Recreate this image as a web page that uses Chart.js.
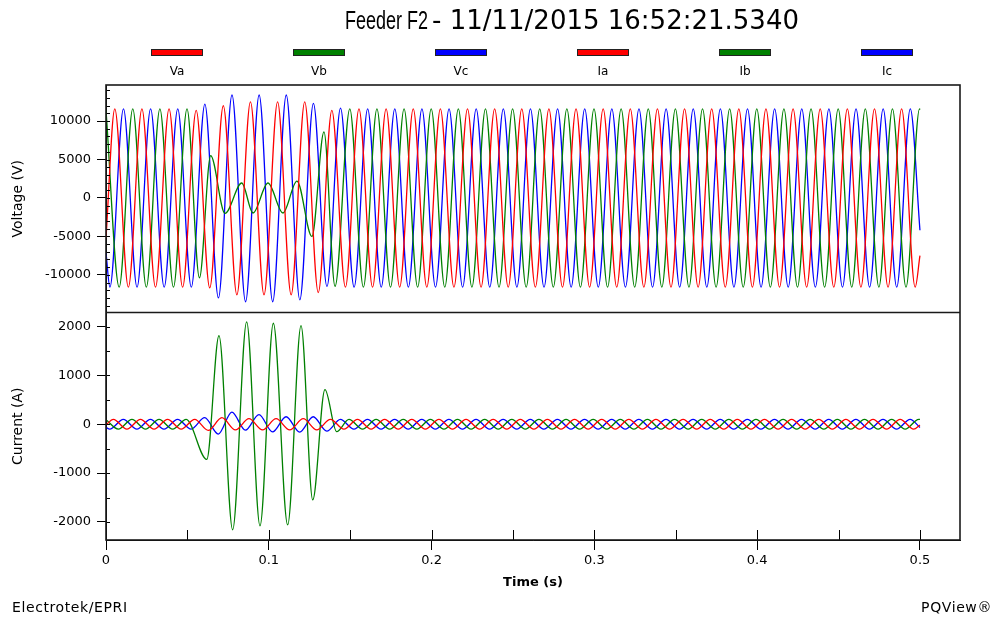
<!DOCTYPE html>
<html>
<head>
<meta charset="utf-8">
<script src="https://cdn.jsdelivr.net/npm/chart.js@4.4.1/dist/chart.umd.min.js"></script>
<style>
  html, body { margin: 0; padding: 0; background: #fff; }
  #wrap { position: relative; width: 994px; height: 618px; overflow: hidden; font-family: 'DejaVu Sans', sans-serif; color: #000; }
  #chart { position: absolute; left: 0; top: 0; }
  .t1 { position: absolute; left: 345px; top: 6px; font: 25px 'Liberation Sans', sans-serif; white-space: nowrap; transform: scaleX(0.72); transform-origin: left top; }
  .t2 { position: absolute; left: 432px; top: 5px; font: 26px 'DejaVu Sans', sans-serif; white-space: nowrap; }
  .sw { position: absolute; top: 49px; width: 50px; height: 5px; border: 1px solid #222; }
  .lab { position: absolute; top: 64px; width: 60px; text-align: center; font-size: 12px; }
  .foot { position: absolute; top: 599px; font-size: 14px; letter-spacing: 0.6px; white-space: nowrap; }
</style>
</head>
<body>
<div id="wrap">
  <canvas id="chart" width="994" height="618"></canvas>
  <div class="t1">Feeder F2</div>
  <div class="t2">- 11/11/2015 16:52:21.5340</div>
  <div id="legend"></div>
  <div class="foot" style="left:12px">Electrotek/EPRI</div>
  <div class="foot" style="right:2px">PQView®</div>
</div>
<script>
// ===== data =====
const freqHz = 60;
const halfCycle = 1 / (2 * freqHz);

const seriesNames = ['Va', 'Vb', 'Vc', 'Ia', 'Ib', 'Ic'];
const seriesColors = ['#ff0000', '#008000', '#0000ff', '#ff0000', '#008000', '#0000ff'];
const timeTicks = [0, 0.1, 0.2, 0.3, 0.4, 0.5];
const voltageTicks = [-10000, -5000, 0, 5000, 10000];
const currentTicks = [-2000, -1000, 0, 1000, 2000];

// voltage, half-cycle extremes (V)
const vaFirst = 0.0054, vaStart = -5200, vaEnd = -7500;
const vaExtremes = [
  11600, -11600, 11600, -11600, 11600, -11600, 11400, -11700, 12000, -12600,
  12500, -12600, 12500, -12600, 12500, -12300, 11400, -11600, 11600, -11600,
  11600, -11600, 11600, -11600, 11600, -11600, 11600, -11600, 11600, -11600,
  11600, -11600, 11600, -11600, 11600, -11600, 11600, -11600, 11600, -11600,
  11600, -11600, 11600, -11600, 11600, -11600, 11600, -11600, 11600, -11600,
  11600, -11600, 11600, -11600, 11600, -11600, 11600, -11600, 11600, -11600
];

const vbFirst = 0.0081, vbStart = 11400, vbEnd = 11500;
const vbExtremes = [
  -11600, 11600, -11600, 11600, -11600, 11600, -10400, 5500, -2000, 1950,
  -1950, 1950, -1950, 2200, -5000, 8600, -11500, 11600, -11600, 11600,
  -11600, 11600, -11600, 11600, -11600, 11600, -11600, 11600, -11600, 11600,
  -11600, 11600, -11600, 11600, -11600, 11600, -11600, 11600, -11600, 11600,
  -11600, 11600, -11600, 11600, -11600, 11600, -11600, 11600, -11600, 11600,
  -11600, 11600, -11600, 11600, -11600, 11600, -11600, 11600, -11600, 11600
];
const vbFaultFrom = 6;
const vbFaultTimes = [0.0574, 0.0643, 0.0731, 0.0834, 0.0903, 0.0995, 0.1087, 0.1173, 0.1265, 0.1339, 0.1407];

const vcFirst = 0.0024, vcStart = -7100, vcEnd = -4200;
const vcExtremes = [
  -11600, 11600, -11600, 11600, -11600, 11600, -11600, 12200, -13000, 13400,
  -13500, 13400, -13500, 13400, -13250, 12300, -11500, 11700, -11600, 11600,
  -11600, 11600, -11600, 11600, -11600, 11600, -11600, 11600, -11600, 11600,
  -11600, 11600, -11600, 11600, -11600, 11600, -11600, 11600, -11600, 11600,
  -11600, 11600, -11600, 11600, -11600, 11600, -11600, 11600, -11600, 11600,
  -11600, 11600, -11600, 11600, -11600, 11600, -11600, 11600, -11600, 11600
];

// current, half-cycle extremes (A)
const iaFirst = 0.0045, iaStart = -12, iaEnd = -15;
const iaExtremes = [
  100, -100, 100, -100, 100, -100, 100, -125, 135, -115,
  115, -115, 115, -115, 115, -115, 100, -100, 100, -100,
  100, -100, 100, -100, 100, -100, 100, -100, 100, -100,
  100, -100, 100, -100, 100, -100, 100, -100, 100, -100,
  100, -100, 100, -100, 100, -100, 100, -100, 100, -100,
  100, -100, 100, -100, 100, -100, 100, -100, 100, -100
];

const ibFirst = 0.0076, ibStart = 95, ibEnd = 100;
const ibExtremes = [
  -100, 100, -100, 100, -100, 100, -720, 1815, -2160, 2100,
  -2080, 2070, -2060, 2020, -1550, 710, -150, 100, -100, 100,
  -100, 100, -100, 100, -100, 100, -100, 100, -100, 100,
  -100, 100, -100, 100, -100, 100, -100, 100, -100, 100,
  -100, 100, -100, 100, -100, 100, -100, 100, -100, 100,
  -100, 100, -100, 100, -100, 100, -100, 100, -100, 100
];
const ibFaultFrom = 6;
const ibFaultTimes = [0.0619, 0.0694, 0.0778, 0.0864, 0.0946, 0.1028, 0.1116, 0.1198, 0.1270, 0.1345, 0.1417];

const icFirst = 0.0023, icStart = -64, icEnd = -64;
const icExtremes = [
  -100, 100, -100, 100, -100, 100, -100, 135, -200, 250,
  -120, 200, -155, 155, -160, 155, -140, 100, -100, 100,
  -100, 100, -100, 100, -100, 100, -100, 100, -100, 100,
  -100, 100, -100, 100, -100, 100, -100, 100, -100, 100,
  -100, 100, -100, 100, -100, 100, -100, 100, -100, 100,
  -100, 100, -100, 100, -100, 100, -100, 100, -100, 100
];

// extremes -> {x, y} points (monotone spline rounds them into the wave)
function wave(first, start, extremes, end, faultFrom, faultTimes) {
  const pts = [{ x: 0, y: start }];
  extremes.forEach((v, j) => {
    let t = first + j * halfCycle;
    if (faultTimes && j >= faultFrom && j < faultFrom + faultTimes.length) t = faultTimes[j - faultFrom];
    pts.push({ x: t, y: v });
  });
  pts.push({ x: 0.5, y: end });
  return pts;
}

const seriesData = [
  wave(vaFirst, vaStart, vaExtremes, vaEnd),
  wave(vbFirst, vbStart, vbExtremes, vbEnd, vbFaultFrom, vbFaultTimes),
  wave(vcFirst, vcStart, vcExtremes, vcEnd),
  wave(iaFirst, iaStart, iaExtremes, iaEnd),
  wave(ibFirst, ibStart, ibExtremes, ibEnd, ibFaultFrom, ibFaultTimes),
  wave(icFirst, icStart, icExtremes, icEnd)
];

// ===== legend (swatch above name) =====
const legendCenters = [177, 319, 461, 603, 745, 887];
const legend = document.getElementById('legend');
seriesNames.forEach((name, i) => {
  const sw = document.createElement('div');
  sw.className = 'sw';
  sw.style.left = (legendCenters[i] - 26) + 'px';
  sw.style.background = seriesColors[i];
  legend.appendChild(sw);
  const lab = document.createElement('div');
  lab.className = 'lab';
  lab.style.left = (legendCenters[i] - 30) + 'px';
  lab.textContent = name;
  legend.appendChild(lab);
});

// ===== frame, panel divider, inner ticks =====
const panelFrame = {
  id: 'panelFrame',
  afterDraw(chart) {
    const { ctx, chartArea: a, scales } = chart;
    ctx.save();
    ctx.strokeStyle = '#000';
    ctx.lineWidth = 1;
    ctx.beginPath();
    for (let v = -14000; v <= 14000; v += 1000) {
      const y = Math.round(scales.yV.getPixelForValue(v)) + 0.5;
      ctx.moveTo(a.left, y); ctx.lineTo(a.left + 4, y);
    }
    for (let v = -2000; v <= 2000; v += 500) {
      const y = Math.round(scales.yI.getPixelForValue(v)) + 0.5;
      ctx.moveTo(a.left, y); ctx.lineTo(a.left + 4, y);
    }
    for (let v = 0.05; v <= 0.5001; v += 0.05) {
      const x = Math.round(scales.x.getPixelForValue(v)) + 0.5;
      ctx.moveTo(x, a.bottom); ctx.lineTo(x, a.bottom - 10);
    }
    ctx.stroke();
    ctx.strokeStyle = '#1a1a1a';
    ctx.lineWidth = 1.6;
    ctx.strokeRect(a.left, a.top, a.right - a.left, a.bottom - a.top);
    ctx.beginPath();
    ctx.moveTo(a.left, scales.yV.bottom);
    ctx.lineTo(a.right, scales.yV.bottom);
    ctx.stroke();
    ctx.restore();
  }
};

Chart.defaults.font.family = "'DejaVu Sans', sans-serif";
Chart.defaults.color = '#000';

const yAxis = (min, max, ticks, title) => ({
  type: 'linear',
  stack: 'panels',
  position: 'left',
  min: min,
  max: max,
  afterBuildTicks: s => { s.ticks = ticks.map(v => ({ value: v })); },
  afterFit: s => { s.width = 106; },
  ticks: { font: { size: 13 }, padding: 6, callback: v => String(v) },
  grid: { drawOnChartArea: false, tickLength: 9, color: '#000' },
  border: { color: '#000' },
  title: { display: true, text: title, font: { size: 14 }, padding: { top: 10, bottom: 0 } }
});

new Chart(document.getElementById('chart'), {
  type: 'line',
  data: {
    datasets: seriesNames.map((name, i) => ({
      label: name,
      data: seriesData[i],
      borderColor: seriesColors[i],
      yAxisID: i < 3 ? 'yV' : 'yI'
    }))
  },
  options: {
    responsive: false,
    animation: false,
    layout: { padding: { top: 85, right: 34, bottom: 26, left: 0 } },
    elements: {
      point: { radius: 0 },
      line: { borderWidth: 1.3, cubicInterpolationMode: 'monotone' }
    },
    plugins: { legend: { display: false }, tooltip: { enabled: false } },
    scales: {
      x: {
        type: 'linear',
        min: 0,
        max: 0.5246,
        afterBuildTicks: s => { s.ticks = timeTicks.map(v => ({ value: v })); },
        afterFit: s => { s.height = 52; },
        ticks: { font: { size: 13 }, padding: 3, maxRotation: 0, callback: v => v === 0 ? '0' : v.toFixed(1) },
        grid: { drawOnChartArea: false, tickLength: 10, color: '#000' },
        border: { color: '#000' },
        title: { display: true, text: 'Time (s)', font: { size: 13, weight: 'bold' }, padding: { top: 0, bottom: 2 } }
      },
      // stacked scales are laid out bottom-up: current panel first
      yI: yAxis(-2370, 2290, currentTicks, 'Current (A)'),
      yV: yAxis(-14900, 14700, voltageTicks, 'Voltage (V)')
    }
  },
  plugins: [panelFrame]
});
</script>
</body>
</html>
